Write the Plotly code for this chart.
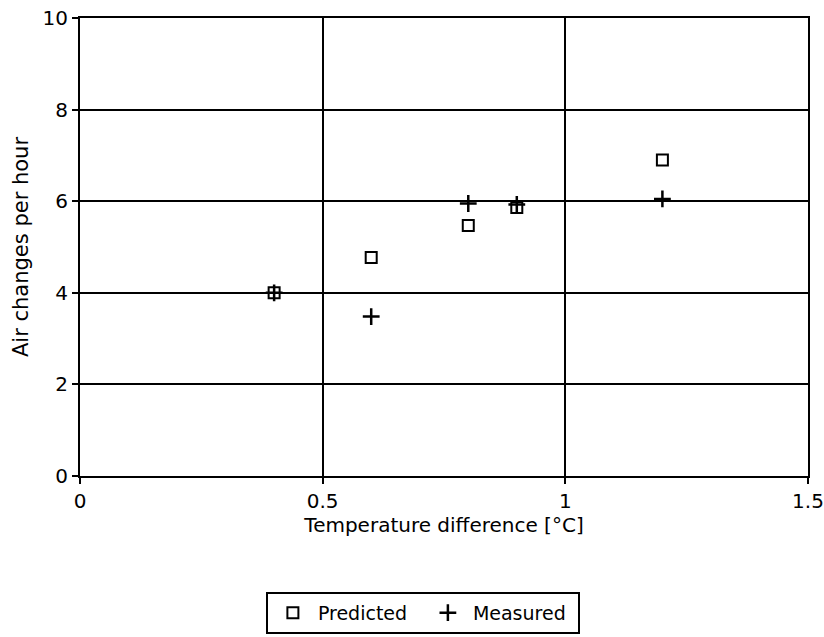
import plotly.graph_objects as go

# Temperature difference [°C] and air change rates
temp_diff = [0.4, 0.6, 0.8, 0.9, 1.2]
predicted = [4.0, 4.77, 5.47, 5.86, 6.9]
measured = [4.0, 3.48, 5.95, 5.93, 6.05]

x_ticks = [0, 0.5, 1, 1.5]
y_ticks = [0, 2, 4, 6, 8, 10]

font_family = "DejaVu Sans"

fig = go.Figure()
fig.add_trace(go.Scatter(
    x=temp_diff, y=predicted, mode="markers", name="Predicted",
    marker=dict(symbol="square-open", size=11, color="black",
                line=dict(width=2, color="black")),
))
fig.add_trace(go.Scatter(
    x=temp_diff, y=measured, mode="markers", name="Measured",
    marker=dict(symbol="cross-thin-open", size=12, color="black",
                line=dict(width=2.5, color="black")),
))

axis_common = dict(
    showgrid=True, gridcolor="black", gridwidth=2,
    showline=True, linecolor="black", linewidth=2, mirror=True,
    ticks="outside", ticklen=6, tickwidth=2, tickcolor="black",
    zeroline=False, automargin=False,
    tickfont=dict(family=font_family, size=20, color="black"),
)

fig.update_xaxes(
    range=[0, 1.5], tickvals=x_ticks, ticktext=[str(v) for v in x_ticks],
    title=dict(text="Temperature difference [°C]", standoff=4,
               font=dict(family=font_family, size=20, color="black")),
    **axis_common,
)
fig.update_yaxes(
    range=[0, 10], tickvals=y_ticks,
    title=dict(text="Air changes per hour", standoff=8,
               font=dict(family=font_family, size=21, color="black")),
    **axis_common,
)

fig.update_layout(
    width=824, height=637,
    margin=dict(l=80, r=16, t=18, b=161, autoexpand=False),
    plot_bgcolor="white", paper_bgcolor="white",
    showlegend=True,
    legend=dict(
        orientation="h", x=0.471, xanchor="center", y=-0.253, yanchor="top",
        bordercolor="black", borderwidth=2, bgcolor="white",
        font=dict(family=font_family, size=19, color="black"),
        itemwidth=40, entrywidth=100,
    ),
)

fig.write_html("out.html")
